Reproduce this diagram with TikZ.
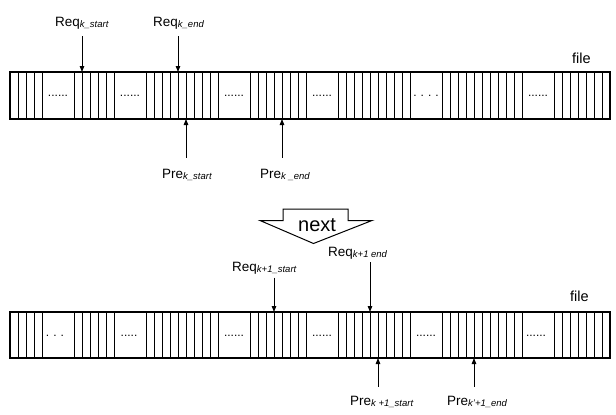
\documentclass[tikz,border=0pt]{standalone}
\usepackage{fontspec}
\setmainfont{Liberation Sans}
\usetikzlibrary{arrows.meta}
\newcommand{\mylbl}[2]{{\fontsize{13.5}{14}\selectfont #1}{\fontsize{9.5}{10}\selectfont\itshape\raisebox{-1.5pt}{#2}}}
\begin{document}
\begin{tikzpicture}[x=1pt,y=-1pt,
  barbox/.style={line width=1.2pt},
  cell/.style={line width=0.9pt},
  ptr/.style={line width=0.9pt,-{Triangle[length=6pt,width=4.5pt]}},
  lab/.style={inner sep=0pt,anchor=base west},
  filelab/.style={inner sep=0pt,anchor=base west,font=\fontsize{14.5}{15}\selectfont},
  dotlab/.style={inner sep=0pt,font=\fontsize{12}{12}\selectfont},
  nextbox/.style={line width=1pt}]
\useasboundingbox (0,0) rectangle (616,415);

% ---------- top bar ----------
\draw[barbox] (10,72) rectangle (610,119);
\foreach \x in {18,26,34,42,74,82,90,98,106,114,146,154,162,170,178,186,194,202,210,218,250,258,266,274,282,290,298,306,338,346,354,362,370,378,386,394,402,410,442,450,458,466,474,482,490,498,506,514,522,554,562,570,578,586,594,602}
  \draw[cell] (\x,72) -- (\x,119);
\node[dotlab] (d11) at (58,96) {......};
\node[dotlab] (d12) at (130,96) {......};
\node[dotlab] (d13) at (234,96) {......};
\node[dotlab] (d14) at (322,96) {......};
\node[dotlab] (d15) at (426,96) {.\,\,.\,\,.\,\,.};
\node[dotlab] (d16) at (538,96) {......};
\node[filelab] (file1) at (572,63) {file};

% top pointers
\coordinate (rs1) at (82,72);
\coordinate (re1) at (178,72);
\coordinate (ps1) at (186,119);
\coordinate (pe1) at (282,119);
\node[lab] (Rs1) at (55,26) {\mylbl{Req}{k\_start}};
\node[lab] (Re1) at (153,26) {\mylbl{Req}{k\_end}};
\node[lab] (Ps1) at (162,178) {\mylbl{Pre}{k\_start}};
\node[lab] (Pe1) at (260,178) {\mylbl{Pre}{k \_end}};
\draw[ptr,shorten <=7pt] (Rs1.south -| rs1) -- (rs1);
\draw[ptr,shorten <=7pt] (Re1.south -| re1) -- (re1);
\draw[ptr,shorten <=11pt] (Ps1.north -| ps1) -- (ps1);
\draw[ptr,shorten <=11pt] (Pe1.north -| pe1) -- (pe1);

% ---------- next arrow ----------
\draw[nextbox] (283,209) -- (348,209) -- (348,220.5) -- (372,220.5) -- (313.5,243.5) -- (260,220.5) -- (283,220.5) -- cycle;
\node[inner sep=0pt,anchor=base west,font=\fontsize{20}{20}\selectfont] (next) at (298,231.5) {next};

% ---------- bottom bar ----------
\draw[barbox] (10,312) rectangle (610,358);
\foreach \x in {18,26,34,42,74,82,90,98,106,114,146,154,162,170,178,186,194,202,210,218,250,258,266,274,282,290,298,306,338,346,354,362,370,378,386,394,402,410,442,450,458,466,474,482,490,498,506,514,522,554,562,570,578,586,594,602}
  \draw[cell] (\x,312) -- (\x,358);
\node[dotlab] (d21) at (55,336) {.\,\,.\,\,.};
\node[dotlab] (d22) at (129,336) {.....};
\node[dotlab] (d23) at (234,336) {......};
\node[dotlab] (d24) at (322,336) {......};
\node[dotlab] (d25) at (426,336) {......};
\node[dotlab] (d26) at (536,336) {......};
\node[filelab] (file2) at (570,301.5) {file};

% bottom pointers
\coordinate (rs2) at (274,312);
\coordinate (re2) at (370,312);
\coordinate (ps2) at (378,358);
\coordinate (pe2) at (474,358);
\node[lab] (Rs2) at (232,271) {\mylbl{Req}{k+1\_start}};
\node[lab] (Re2) at (328,256) {\mylbl{Req}{k+1 end}};
\node[lab] (Ps2) at (350,405) {\mylbl{Pre}{k +1\_start}};
\node[lab] (Pe2) at (447,405) {\mylbl{Pre}{k'+1\_end}};
\draw[ptr,shorten <=3.5pt] (Rs2.south -| rs2) -- (rs2);
\draw[ptr,shorten <=3pt] (Re2.south -| re2) -- (re2);
\draw[ptr,shorten <=9pt] (Ps2.north -| ps2) -- (ps2);
\draw[ptr,shorten <=9pt] (Pe2.north -| pe2) -- (pe2);
\end{tikzpicture}
\end{document}
